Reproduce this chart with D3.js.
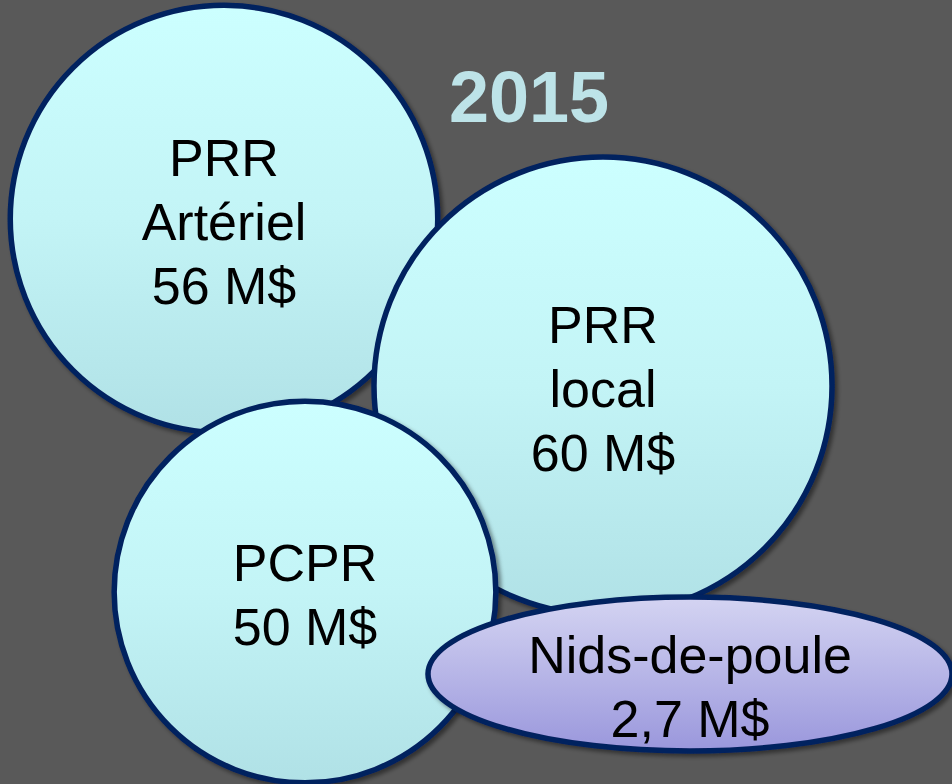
<!DOCTYPE html>
<html>
<head>
<meta charset="utf-8">
<script src="https://cdn.jsdelivr.net/npm/d3@7"></script>
<style>
  html, body { margin: 0; padding: 0; background: #595959; }
  svg { display: block; }
</style>
</head>
<body>
<div id="chart"></div>
<script>
// chart data
const year = "2015";
const programs = ["PRR Artériel", "PRR local", "PCPR", "Nids-de-poule"];
const budgets = [56, 60, 50, 2.7];          // M$
const labelLines = [["PRR", "Artériel"], ["PRR", "local"], ["PCPR"], ["Nids-de-poule"]];

(function() {
  var W = 952, H = 784;

  // layout (centres picked to match the slide)
  var centres = [[224, 219], [603, 386], [305, 592], [690, 674]];
  var potholeEllipse = { rx: 262, ry: 77 };   // the small item is drawn as a wide ellipse
  var lineGap = 64;
  var fmt = function(v) { return String(v).replace(".", ",") + " M$"; };

  // bubble radius grows linearly with budget
  var r = d3.scaleLinear().domain([0, 60]).range([0, 229]);

  var svg = d3.select("#chart").append("svg")
    .attr("width", W).attr("height", H);

  svg.append("rect").attr("width", W).attr("height", H).attr("fill", "#595959");

  var defs = svg.append("defs");

  var shadow = defs.append("filter").attr("id", "shadow")
    .attr("x", "-10%").attr("y", "-10%").attr("width", "130%").attr("height", "130%");
  shadow.append("feDropShadow")
    .attr("dx", 3).attr("dy", 3).attr("stdDeviation", 2)
    .attr("flood-color", "#000").attr("flood-opacity", 0.45);

  var cyan = defs.append("linearGradient").attr("id", "cyan")
    .attr("x1", 0).attr("y1", 0).attr("x2", 0).attr("y2", 1);
  cyan.append("stop").attr("offset", "0%").attr("stop-color", "#ccffff");
  cyan.append("stop").attr("offset", "50%").attr("stop-color", "#c3f4f6");
  cyan.append("stop").attr("offset", "100%").attr("stop-color", "#b0e1e6");

  var lilac = defs.append("linearGradient").attr("id", "lilac")
    .attr("x1", 0).attr("y1", 0).attr("x2", 0).attr("y2", 1);
  lilac.append("stop").attr("offset", "0%").attr("stop-color", "#d4d4f2");
  lilac.append("stop").attr("offset", "100%").attr("stop-color", "#9a97dc");

  // year title
  svg.append("text")
    .attr("x", 529).attr("y", 122)
    .attr("text-anchor", "middle")
    .style("font-family", "'Liberation Sans', Arial, sans-serif")
    .style("font-weight", "bold")
    .style("font-size", "72px")
    .style("fill", "#bde3e8")
    .text(year);

  var items = programs.map(function(p, i) {
    return { name: p, value: budgets[i], lines: labelLines[i].concat([fmt(budgets[i])]),
             cx: centres[i][0], cy: centres[i][1], last: i === programs.length - 1 };
  });

  var g = svg.selectAll(".bubble")
    .data(items)
    .enter().append("g")
    .attr("class", "bubble")
    .attr("transform", function(d) { return "translate(" + d.cx + "," + d.cy + ")"; });

  g.each(function(d) {
    var node = d3.select(this);
    var shape;
    if (d.last) {
      shape = node.append("ellipse")
        .attr("rx", potholeEllipse.rx).attr("ry", potholeEllipse.ry)
        .attr("fill", "url(#lilac)");
    } else {
      shape = node.append("circle")
        .attr("r", r(d.value))
        .attr("fill", "url(#cyan)");
    }
    shape.attr("stroke", "#06205f").attr("stroke-width", 5.5).attr("filter", "url(#shadow)");

    // text block centred on the bubble (ellipse text sits a bit lower)
    var n = d.lines.length;
    var first = -((n - 1) * lineGap) / 2 + 21 + (d.last ? 10 : 0);
    node.selectAll("text")
      .data(d.lines)
      .enter().append("text")
      .attr("x", 0)
      .attr("y", function(t, j) { return first + j * lineGap; })
      .attr("text-anchor", "middle")
      .style("font-family", "'Liberation Sans', Arial, sans-serif")
      .style("font-size", "52px")
      .style("fill", "#000")
      .text(function(t) { return t; });
  });
})();
</script>
</body>
</html>
